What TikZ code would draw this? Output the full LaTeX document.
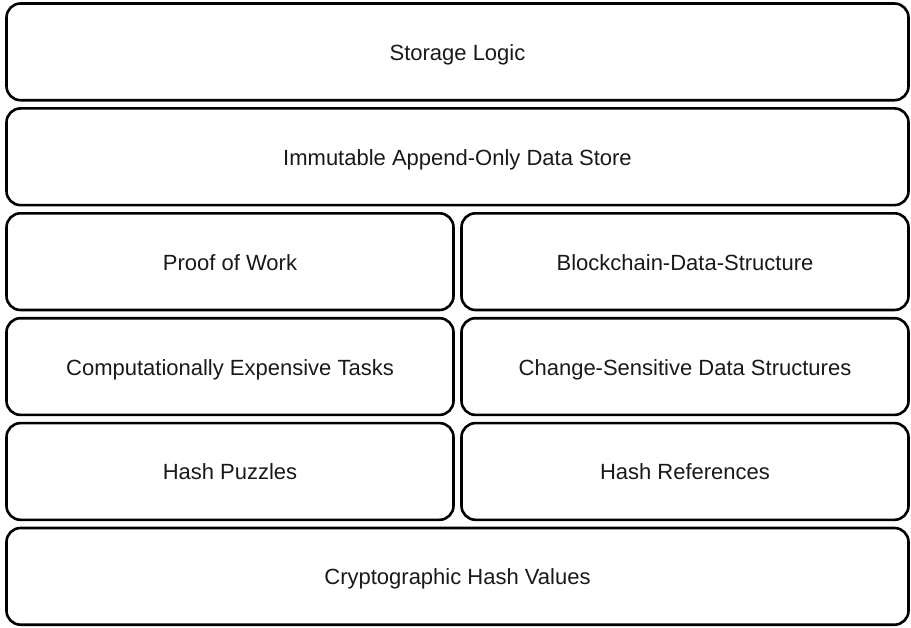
\documentclass[tikz,border=0pt]{standalone}
\usepackage{fontspec}
\setmainfont{Liberation Sans}
\usetikzlibrary{positioning}
\tikzset{
  layer/.style={draw=black, line width=2.6pt, rounded corners=14pt, align=center, font=\fontsize{22}{26}\selectfont, text=black!90, text height=17pt, text depth=0pt, inner sep=0pt, outer sep=0pt, minimum height=96.7pt},
  wide/.style={layer, minimum width=902pt},
  half/.style={layer, minimum width=447pt}
}

\begin{document}
\begin{tikzpicture}
\useasboundingbox (0pt,0pt) rectangle (911pt,-627pt);
\node[wide, anchor=north west] (s1) at (6.5pt,-3.5pt) {Storage Logic};
\node[wide, below=8.2pt of s1] (s2) {Immutable Append-Only Data Store};
\node[half, below=8.2pt of s2.south west, anchor=north west] (p1) {Proof of Work};
\node[half, right=8pt of p1] (b1) {Blockchain-Data-Structure};
\node[half, below=8.2pt of p1] (p2) {Computationally Expensive Tasks};
\node[half, right=8pt of p2] (b2) {Change-Sensitive Data Structures};
\node[half, below=8.2pt of p2] (p3) {Hash Puzzles};
\node[half, right=8pt of p3] (b3) {Hash References};
\node[wide, below=8.2pt of p3.south west, anchor=north west] (c1) {Cryptographic Hash Values};
\end{tikzpicture}
\end{document}
